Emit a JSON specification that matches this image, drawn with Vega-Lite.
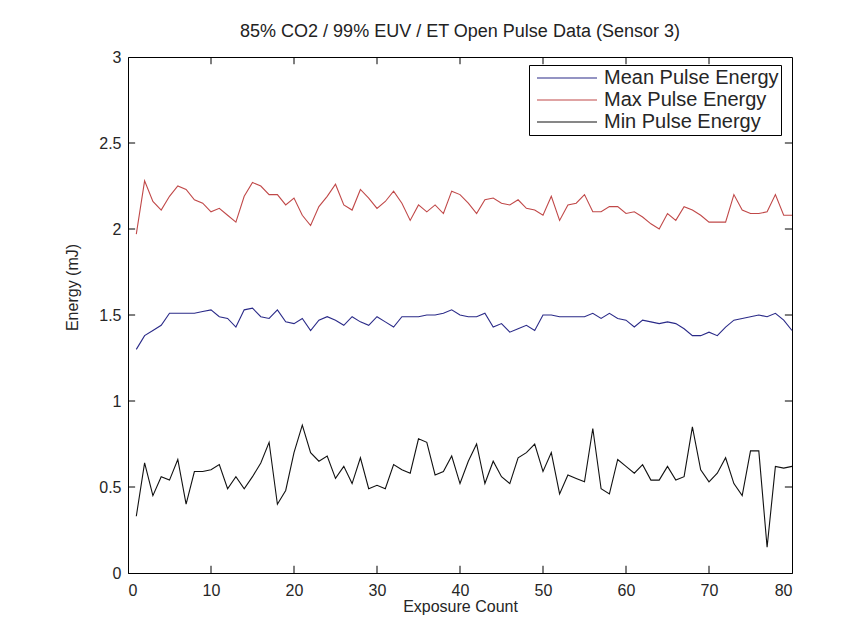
{
  "$schema": "https://vega.github.io/schema/vega-lite/v6.json",
  "width": 664,
  "height": 516,
  "autosize": {"type": "none"},
  "padding": {"left": 128, "top": 57, "right": 64, "bottom": 66},
  "background": "white",
  "config": {
    "font": "Liberation Sans",
    "view": {"stroke": "black", "strokeWidth": 1}
  },
  "title": {
    "text": "85% CO2 / 99% EUV / ET Open Pulse Data (Sensor 3)",
    "fontSize": 18,
    "fontWeight": "normal",
    "color": "#222222",
    "anchor": "middle",
    "offset": 8
  },
  "datasets": {
    "pulses": [
      {"x":1,"Mean Pulse Energy":1.30,"Max Pulse Energy":1.97,"Min Pulse Energy":0.33},
      {"x":2,"Mean Pulse Energy":1.38,"Max Pulse Energy":2.28,"Min Pulse Energy":0.64},
      {"x":3,"Mean Pulse Energy":1.41,"Max Pulse Energy":2.16,"Min Pulse Energy":0.45},
      {"x":4,"Mean Pulse Energy":1.44,"Max Pulse Energy":2.11,"Min Pulse Energy":0.56},
      {"x":5,"Mean Pulse Energy":1.51,"Max Pulse Energy":2.19,"Min Pulse Energy":0.54},
      {"x":6,"Mean Pulse Energy":1.51,"Max Pulse Energy":2.25,"Min Pulse Energy":0.66},
      {"x":7,"Mean Pulse Energy":1.51,"Max Pulse Energy":2.23,"Min Pulse Energy":0.40},
      {"x":8,"Mean Pulse Energy":1.51,"Max Pulse Energy":2.17,"Min Pulse Energy":0.59},
      {"x":9,"Mean Pulse Energy":1.52,"Max Pulse Energy":2.15,"Min Pulse Energy":0.59},
      {"x":10,"Mean Pulse Energy":1.53,"Max Pulse Energy":2.10,"Min Pulse Energy":0.60},
      {"x":11,"Mean Pulse Energy":1.49,"Max Pulse Energy":2.12,"Min Pulse Energy":0.63},
      {"x":12,"Mean Pulse Energy":1.48,"Max Pulse Energy":2.08,"Min Pulse Energy":0.49},
      {"x":13,"Mean Pulse Energy":1.43,"Max Pulse Energy":2.04,"Min Pulse Energy":0.56},
      {"x":14,"Mean Pulse Energy":1.53,"Max Pulse Energy":2.19,"Min Pulse Energy":0.49},
      {"x":15,"Mean Pulse Energy":1.54,"Max Pulse Energy":2.27,"Min Pulse Energy":0.56},
      {"x":16,"Mean Pulse Energy":1.49,"Max Pulse Energy":2.25,"Min Pulse Energy":0.64},
      {"x":17,"Mean Pulse Energy":1.48,"Max Pulse Energy":2.20,"Min Pulse Energy":0.76},
      {"x":18,"Mean Pulse Energy":1.53,"Max Pulse Energy":2.20,"Min Pulse Energy":0.40},
      {"x":19,"Mean Pulse Energy":1.46,"Max Pulse Energy":2.14,"Min Pulse Energy":0.48},
      {"x":20,"Mean Pulse Energy":1.45,"Max Pulse Energy":2.18,"Min Pulse Energy":0.70},
      {"x":21,"Mean Pulse Energy":1.48,"Max Pulse Energy":2.08,"Min Pulse Energy":0.86},
      {"x":22,"Mean Pulse Energy":1.41,"Max Pulse Energy":2.02,"Min Pulse Energy":0.70},
      {"x":23,"Mean Pulse Energy":1.47,"Max Pulse Energy":2.13,"Min Pulse Energy":0.65},
      {"x":24,"Mean Pulse Energy":1.49,"Max Pulse Energy":2.19,"Min Pulse Energy":0.68},
      {"x":25,"Mean Pulse Energy":1.47,"Max Pulse Energy":2.26,"Min Pulse Energy":0.55},
      {"x":26,"Mean Pulse Energy":1.44,"Max Pulse Energy":2.14,"Min Pulse Energy":0.62},
      {"x":27,"Mean Pulse Energy":1.49,"Max Pulse Energy":2.11,"Min Pulse Energy":0.52},
      {"x":28,"Mean Pulse Energy":1.46,"Max Pulse Energy":2.23,"Min Pulse Energy":0.67},
      {"x":29,"Mean Pulse Energy":1.44,"Max Pulse Energy":2.18,"Min Pulse Energy":0.49},
      {"x":30,"Mean Pulse Energy":1.49,"Max Pulse Energy":2.12,"Min Pulse Energy":0.51},
      {"x":31,"Mean Pulse Energy":1.46,"Max Pulse Energy":2.16,"Min Pulse Energy":0.49},
      {"x":32,"Mean Pulse Energy":1.43,"Max Pulse Energy":2.22,"Min Pulse Energy":0.63},
      {"x":33,"Mean Pulse Energy":1.49,"Max Pulse Energy":2.15,"Min Pulse Energy":0.60},
      {"x":34,"Mean Pulse Energy":1.49,"Max Pulse Energy":2.05,"Min Pulse Energy":0.58},
      {"x":35,"Mean Pulse Energy":1.49,"Max Pulse Energy":2.14,"Min Pulse Energy":0.78},
      {"x":36,"Mean Pulse Energy":1.50,"Max Pulse Energy":2.10,"Min Pulse Energy":0.76},
      {"x":37,"Mean Pulse Energy":1.50,"Max Pulse Energy":2.14,"Min Pulse Energy":0.57},
      {"x":38,"Mean Pulse Energy":1.51,"Max Pulse Energy":2.09,"Min Pulse Energy":0.59},
      {"x":39,"Mean Pulse Energy":1.53,"Max Pulse Energy":2.22,"Min Pulse Energy":0.68},
      {"x":40,"Mean Pulse Energy":1.50,"Max Pulse Energy":2.20,"Min Pulse Energy":0.52},
      {"x":41,"Mean Pulse Energy":1.49,"Max Pulse Energy":2.15,"Min Pulse Energy":0.65},
      {"x":42,"Mean Pulse Energy":1.49,"Max Pulse Energy":2.09,"Min Pulse Energy":0.75},
      {"x":43,"Mean Pulse Energy":1.51,"Max Pulse Energy":2.17,"Min Pulse Energy":0.52},
      {"x":44,"Mean Pulse Energy":1.43,"Max Pulse Energy":2.18,"Min Pulse Energy":0.65},
      {"x":45,"Mean Pulse Energy":1.45,"Max Pulse Energy":2.15,"Min Pulse Energy":0.56},
      {"x":46,"Mean Pulse Energy":1.40,"Max Pulse Energy":2.14,"Min Pulse Energy":0.52},
      {"x":47,"Mean Pulse Energy":1.42,"Max Pulse Energy":2.17,"Min Pulse Energy":0.67},
      {"x":48,"Mean Pulse Energy":1.44,"Max Pulse Energy":2.12,"Min Pulse Energy":0.70},
      {"x":49,"Mean Pulse Energy":1.41,"Max Pulse Energy":2.11,"Min Pulse Energy":0.75},
      {"x":50,"Mean Pulse Energy":1.50,"Max Pulse Energy":2.08,"Min Pulse Energy":0.59},
      {"x":51,"Mean Pulse Energy":1.50,"Max Pulse Energy":2.19,"Min Pulse Energy":0.70},
      {"x":52,"Mean Pulse Energy":1.49,"Max Pulse Energy":2.05,"Min Pulse Energy":0.46},
      {"x":53,"Mean Pulse Energy":1.49,"Max Pulse Energy":2.14,"Min Pulse Energy":0.57},
      {"x":54,"Mean Pulse Energy":1.49,"Max Pulse Energy":2.15,"Min Pulse Energy":0.55},
      {"x":55,"Mean Pulse Energy":1.49,"Max Pulse Energy":2.20,"Min Pulse Energy":0.53},
      {"x":56,"Mean Pulse Energy":1.51,"Max Pulse Energy":2.10,"Min Pulse Energy":0.84},
      {"x":57,"Mean Pulse Energy":1.48,"Max Pulse Energy":2.10,"Min Pulse Energy":0.49},
      {"x":58,"Mean Pulse Energy":1.51,"Max Pulse Energy":2.13,"Min Pulse Energy":0.46},
      {"x":59,"Mean Pulse Energy":1.48,"Max Pulse Energy":2.13,"Min Pulse Energy":0.66},
      {"x":60,"Mean Pulse Energy":1.47,"Max Pulse Energy":2.09,"Min Pulse Energy":0.62},
      {"x":61,"Mean Pulse Energy":1.43,"Max Pulse Energy":2.10,"Min Pulse Energy":0.58},
      {"x":62,"Mean Pulse Energy":1.47,"Max Pulse Energy":2.07,"Min Pulse Energy":0.63},
      {"x":63,"Mean Pulse Energy":1.46,"Max Pulse Energy":2.03,"Min Pulse Energy":0.54},
      {"x":64,"Mean Pulse Energy":1.45,"Max Pulse Energy":2.00,"Min Pulse Energy":0.54},
      {"x":65,"Mean Pulse Energy":1.46,"Max Pulse Energy":2.09,"Min Pulse Energy":0.62},
      {"x":66,"Mean Pulse Energy":1.45,"Max Pulse Energy":2.05,"Min Pulse Energy":0.54},
      {"x":67,"Mean Pulse Energy":1.42,"Max Pulse Energy":2.13,"Min Pulse Energy":0.56},
      {"x":68,"Mean Pulse Energy":1.38,"Max Pulse Energy":2.11,"Min Pulse Energy":0.85},
      {"x":69,"Mean Pulse Energy":1.38,"Max Pulse Energy":2.08,"Min Pulse Energy":0.60},
      {"x":70,"Mean Pulse Energy":1.40,"Max Pulse Energy":2.04,"Min Pulse Energy":0.53},
      {"x":71,"Mean Pulse Energy":1.38,"Max Pulse Energy":2.04,"Min Pulse Energy":0.58},
      {"x":72,"Mean Pulse Energy":1.43,"Max Pulse Energy":2.04,"Min Pulse Energy":0.67},
      {"x":73,"Mean Pulse Energy":1.47,"Max Pulse Energy":2.20,"Min Pulse Energy":0.52},
      {"x":74,"Mean Pulse Energy":1.48,"Max Pulse Energy":2.11,"Min Pulse Energy":0.45},
      {"x":75,"Mean Pulse Energy":1.49,"Max Pulse Energy":2.09,"Min Pulse Energy":0.71},
      {"x":76,"Mean Pulse Energy":1.50,"Max Pulse Energy":2.09,"Min Pulse Energy":0.71},
      {"x":77,"Mean Pulse Energy":1.49,"Max Pulse Energy":2.10,"Min Pulse Energy":0.15},
      {"x":78,"Mean Pulse Energy":1.51,"Max Pulse Energy":2.20,"Min Pulse Energy":0.62},
      {"x":79,"Mean Pulse Energy":1.47,"Max Pulse Energy":2.08,"Min Pulse Energy":0.61},
      {"x":80,"Mean Pulse Energy":1.41,"Max Pulse Energy":2.08,"Min Pulse Energy":0.62}
    ],
    "xticks": [{"t":10},{"t":20},{"t":30},{"t":40},{"t":50},{"t":60},{"t":70}],
    "yticks": [{"t":0.5},{"t":1},{"t":1.5},{"t":2},{"t":2.5}]
  },
  "layer": [
    {
      "data": {"name": "pulses"},
      "transform": [
        {"fold": ["Mean Pulse Energy", "Max Pulse Energy", "Min Pulse Energy"], "as": ["series", "energy"]}
      ],
      "mark": {"type": "line", "strokeWidth": 1.1},
      "encoding": {
        "x": {
          "field": "x", "type": "quantitative",
          "scale": {"domain": [0, 80], "nice": false},
          "axis": {
            "orient": "bottom", "title": "Exposure Count",
            "values": [0, 10, 20, 30, 40, 50, 60, 70, 80],
            "grid": false, "ticks": false, "domainColor": "black",
            "labelFontSize": 16, "labelColor": "#262626", "labelPadding": 9,
            "titleFontSize": 16, "titleFontWeight": "normal", "titleColor": "#262626",
            "titleY": 33, "titleBaseline": "middle"
          }
        },
        "y": {
          "field": "energy", "type": "quantitative",
          "scale": {"domain": [0, 3], "nice": false},
          "axis": {
            "orient": "left", "title": "Energy (mJ)",
            "values": [0, 0.5, 1, 1.5, 2, 2.5, 3],
            "format": "~g",
            "grid": false, "ticks": false, "domainColor": "black",
            "labelFontSize": 16, "labelColor": "#262626", "labelPadding": 7,
            "titleFontSize": 16, "titleFontWeight": "normal", "titleColor": "#262626",
            "titleX": -56, "titleY": 230, "titleBaseline": "middle", "titleAlign": "center", "titleAngle": -90
          }
        },
        "color": {
          "field": "series", "type": "nominal",
          "scale": {
            "domain": ["Mean Pulse Energy", "Max Pulse Energy", "Min Pulse Energy"],
            "range": ["#2a2a88", "#c04848", "#111111"]
          },
          "legend": {
            "title": null, "orient": "none", "legendX": 401, "legendY": 8,
            "direction": "vertical",
            "strokeColor": "black", "fillColor": "white", "padding": 2,
            "symbolType": "stroke", "symbolSize": 3600, "symbolStrokeWidth": 1.2,
            "symbolOffset": 5,
            "clipHeight": 22, "rowPadding": 0,
            "labelFontSize": 20, "labelColor": "#262626", "labelOffset": 6,
            "labelLimit": 400
          }
        }
      }
    },
    {
      "data": {"name": "xticks"},
      "mark": {"type": "rule", "color": "black", "strokeWidth": 1},
      "encoding": {
        "x": {"field": "t", "type": "quantitative"},
        "y": {"datum": 0},
        "y2": {"datum": 0.042}
      }
    },
    {
      "data": {"name": "xticks"},
      "mark": {"type": "rule", "color": "black", "strokeWidth": 1},
      "encoding": {
        "x": {"field": "t", "type": "quantitative"},
        "y": {"datum": 3},
        "y2": {"datum": 2.958}
      }
    },
    {
      "data": {"name": "yticks"},
      "mark": {"type": "rule", "color": "black", "strokeWidth": 1},
      "encoding": {
        "y": {"field": "t", "type": "quantitative"},
        "x": {"datum": 0},
        "x2": {"datum": 0.86}
      }
    },
    {
      "data": {"name": "yticks"},
      "mark": {"type": "rule", "color": "black", "strokeWidth": 1},
      "encoding": {
        "y": {"field": "t", "type": "quantitative"},
        "x": {"datum": 80},
        "x2": {"datum": 79.14}
      }
    }
  ]
}
